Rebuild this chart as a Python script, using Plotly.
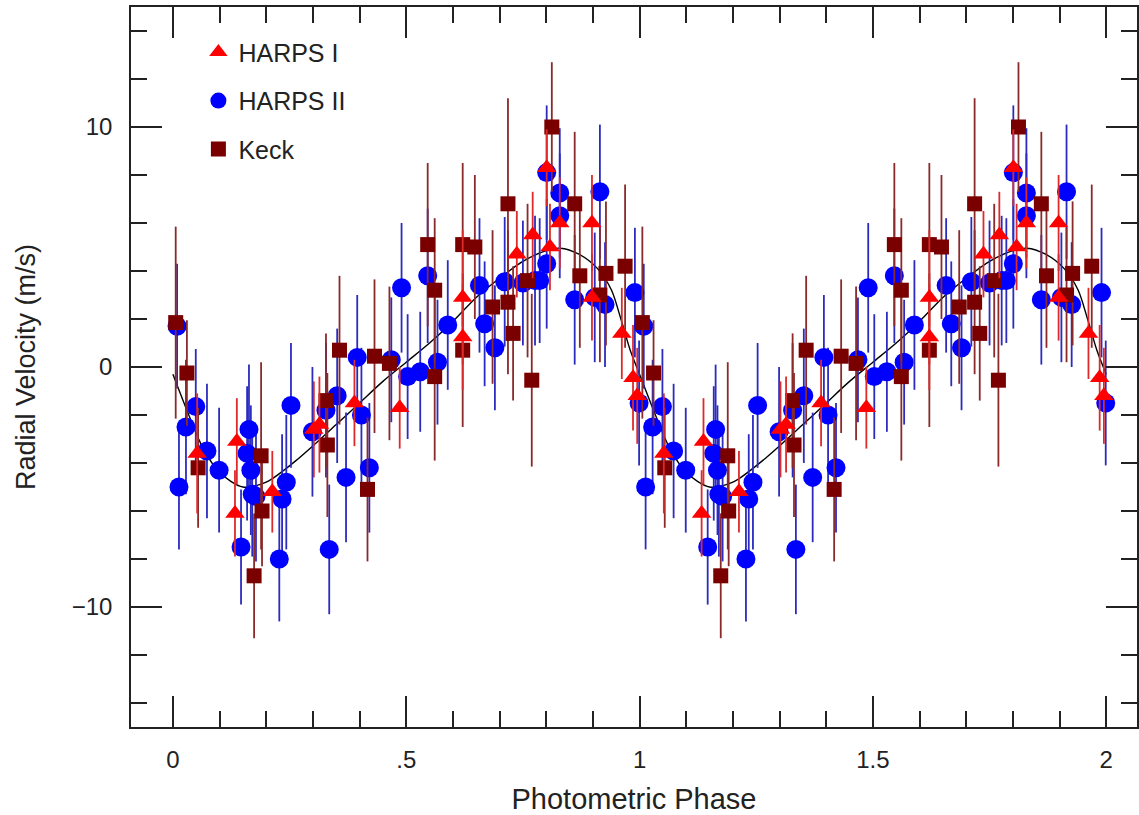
import plotly.graph_objects as go

# ---- data (one orbital phase; drawn twice, phase 0-1 and 1-2) ----
harps1_phase = [0.052, 0.133, 0.137, 0.213, 0.302, 0.314, 0.389, 0.486, 0.621, 0.621,
                0.737, 0.771, 0.801, 0.808, 0.829, 0.898, 0.898, 0.962, 0.986, 0.995]
harps1_rv = [-3.6, -6.1, -3.1, -5.2, -2.6, -2.4, -1.5, -1.7, 2.9, 1.25,
             4.7, 5.5, 8.3, 5.0, 6.0, 6.0, 2.9, 1.4, -0.45, -1.2]
harps1_err = [2.5, 1.8, 1.8, 1.7, 2.0, 2.0, 1.8, 1.7, 2.8, 2.2,
              1.8, 1.8, 1.6, 1.8, 1.9, 2.0, 1.8, 1.9, 2.2, 2.0]

harps2_phase = [0.009, 0.013, 0.028, 0.049, 0.073, 0.099, 0.146, 0.159, 0.163, 0.167,
                0.170, 0.178, 0.228, 0.234, 0.243, 0.253, 0.299, 0.328, 0.335, 0.352,
                0.371, 0.395, 0.404, 0.421, 0.468, 0.490, 0.503, 0.530, 0.546, 0.567,
                0.589, 0.657, 0.668, 0.690, 0.711, 0.750, 0.776, 0.786, 0.801, 0.801,
                0.829, 0.829, 0.861, 0.904, 0.915, 0.926, 0.990, 0.999]
harps2_rv = [1.7, -5.0, -2.5, -1.65, -3.5, -4.3, -7.5, -3.6, -2.6, -4.3,
             -5.3, -5.4, -8.0, -5.5, -4.8, -1.6, -2.7, -1.8, -7.6, -1.2,
             -4.6, 0.4, -2.0, -4.2, 0.3, 3.3, -0.4, -0.2, 3.8, 0.2,
             1.75, 3.4, 1.8, 0.8, 3.55, 3.5, 3.6, 3.6, 4.3, 8.1,
             7.25, 6.3, 2.8, 2.9, 7.3, 2.6, 3.1, -1.5]
harps2_err = [2.6, 2.6, 2.8, 2.4, 2.8, 2.6, 2.4, 2.8, 2.7, 2.7,
              2.6, 2.7, 2.6, 2.7, 2.8, 2.6, 2.7, 2.8, 2.7, 2.8,
              2.7, 2.6, 2.8, 2.7, 2.6, 2.7, 2.6, 2.5, 2.8, 2.6,
              2.7, 2.8, 2.6, 2.6, 2.7, 2.6, 2.7, 2.6, 2.7, 2.8,
              2.7, 2.6, 2.7, 2.7, 2.8, 2.6, 2.7, 2.6]

keck_phase = [0.006, 0.030, 0.054, 0.174, 0.189, 0.191, 0.328, 0.331, 0.357, 0.417,
              0.432, 0.464, 0.546, 0.561, 0.561, 0.621, 0.621, 0.647, 0.685, 0.718,
              0.718, 0.729, 0.760, 0.769, 0.812, 0.861, 0.872, 0.915, 0.928, 0.969]
keck_rv = [1.85, -0.25, -4.2, -8.7, -3.7, -6.0, -1.4, -3.25, 0.7, -5.1,
           0.45, 0.15, 5.1, 3.2, -0.4, 5.1, 0.7, 5.0, 2.5, 6.8,
           2.7, 1.4, 3.6, -0.55, 10.0, 6.8, 3.8, 3.0, 3.9, 4.2]
keck_err = [4.0, 2.2, 2.5, 2.6, 3.9, 2.3, 2.8, 3.0, 3.1, 3.0,
            3.2, 3.2, 3.4, 3.0, 3.5, 3.4, 3.2, 3.0, 3.2, 4.4,
            3.0, 2.8, 3.2, 3.6, 2.7, 3.0, 3.0, 2.8, 3.0, 3.4]

model_phase = [0.0, 0.03, 0.06, 0.10, 0.15, 0.20, 0.27, 0.35, 0.40, 0.45, 0.50, 0.55,
               0.60, 0.65, 0.70, 0.75, 0.80, 0.83, 0.87, 0.91, 0.94, 0.96, 0.98]
model_rv = [-0.3, -1.8, -3.2, -4.4, -5.0, -4.8, -3.8, -2.4, -1.5, -0.6, 0.2, 1.0,
            1.9, 2.9, 3.7, 4.4, 4.85, 4.95, 4.7, 4.1, 3.2, 2.0, 0.7]

x_ticks = [0, 0.5, 1, 1.5, 2]
x_tick_labels = ["0", ".5", "1", "1.5", "2"]
y_ticks = [-10, 0, 10]
y_tick_labels = ["\u221210", "0", "10"]


def twice(ph):
    return list(ph) + [p + 1 for p in ph]


FONT = "Liberation Sans, Arial, Helvetica, sans-serif"
TXT = "#222222"

fig = go.Figure()

# model curve
fig.add_trace(go.Scatter(
    x=twice(model_phase) + [model_phase[0] + 2],
    y=list(model_rv) * 2 + [model_rv[0]],
    mode="lines", line=dict(color="black", width=1.4, shape="spline", smoothing=0.8),
    showlegend=False, hoverinfo="skip"))

# HARPS II
fig.add_trace(go.Scatter(
    x=twice(harps2_phase), y=harps2_rv * 2, mode="markers", name="HARPS II",
    legendgroup="b", legendrank=2,
    marker=dict(symbol="circle", size=19, color="#0000ff", line=dict(width=0)),
    error_y=dict(type="data", array=harps2_err * 2, color="#2b2bbf", thickness=1.8, width=0)))

# Keck
fig.add_trace(go.Scatter(
    x=twice(keck_phase), y=keck_rv * 2, mode="markers", name="Keck",
    legendgroup="c", legendrank=3,
    marker=dict(symbol="square", size=15, color="#7a0000", line=dict(width=0)),
    error_y=dict(type="data", array=keck_err * 2, color="#8a2a2a", thickness=1.8, width=0)))

# HARPS I
fig.add_trace(go.Scatter(
    x=twice(harps1_phase), y=harps1_rv * 2, mode="markers", name="HARPS I",
    legendgroup="a", legendrank=1,
    marker=dict(symbol="triangle-up", size=17, color="#ff0000", line=dict(width=0)),
    error_y=dict(type="data", array=harps1_err * 2, color="#dd2a2a", thickness=1.8, width=0)))

axis_common = dict(
    showline=True, linecolor="#222222", linewidth=1.5, mirror="ticks",
    ticks="inside", tickcolor="#222222", tickwidth=1.5, ticklen=31,
    showgrid=False, zeroline=False,
    tickfont=dict(family=FONT, size=24, color=TXT),
)

fig.update_layout(
    width=1139, height=815,
    margin=dict(l=131, r=0, t=7, b=88),
    paper_bgcolor="white", plot_bgcolor="white",
    font=dict(family=FONT, color=TXT),
    xaxis=dict(
        range=[-0.0898, 2.066],
        tickvals=x_ticks, ticktext=x_tick_labels,
        ticklabelstandoff=10,
        minor=dict(ticks="inside", dtick=0.1, tick0=0, ticklen=16, tickwidth=1.5, tickcolor="#222222"),
        title=dict(text="\u2009Photometric Phase", font=dict(family=FONT, size=29, color=TXT), standoff=17),
        **axis_common),
    yaxis=dict(
        range=[-15, 15],
        tickvals=y_ticks, ticktext=y_tick_labels,
        ticklabelstandoff=12,
        minor=dict(ticks="inside", dtick=2, tick0=0, ticklen=16, tickwidth=1.5, tickcolor="#222222"),
        title=dict(text="Radial Velocity (m/s)", font=dict(family=FONT, size=27, color=TXT), standoff=28),
        **axis_common),
    legend=dict(
        x=0.067, y=0.969, xanchor="left", yanchor="top",
        bgcolor="rgba(0,0,0,0)", borderwidth=0,
        font=dict(family=FONT, size=25, color=TXT),
        traceorder="grouped", tracegroupgap=13,
    ),
    showlegend=True,
)

fig.write_html(
    "out.html",
    config={"displayModeBar": False},
    post_script="document.body.style.margin='0';document.body.style.overflow='hidden';",
)
